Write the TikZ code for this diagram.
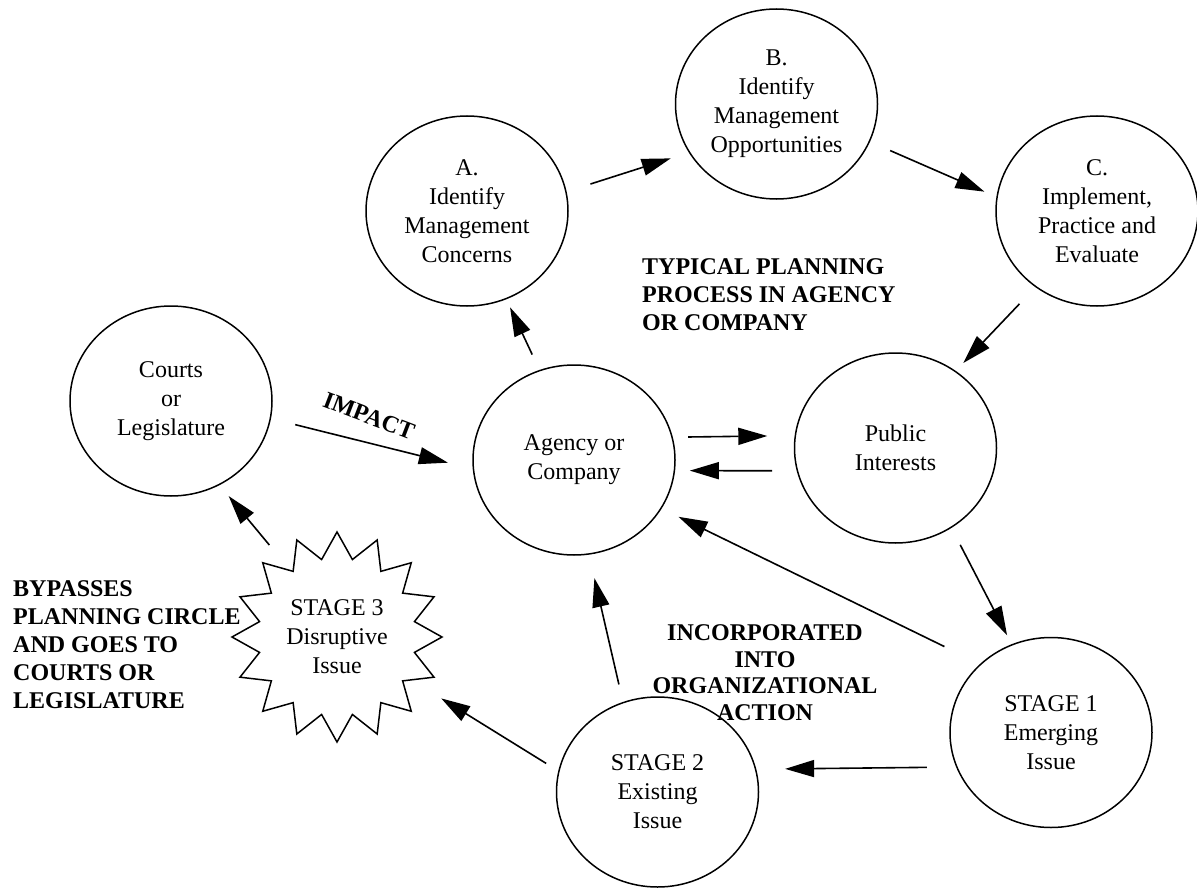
\documentclass[tikz,border=0pt]{standalone}
\usepackage{fontspec}
\setmainfont{Liberation Serif}
\usetikzlibrary{arrows.meta,shapes.geometric}
\begin{document}
\begin{tikzpicture}[x=1pt,y=-1pt,
  every node/.style={font=\fontsize{24}{29}\selectfont},
  bub/.style={draw,ellipse,line width=1.5pt,minimum width=202pt,minimum height=190pt,inner sep=0pt,align=center},
  burst/.style={draw,star,star points=16,star point ratio=1.33,minimum size=210pt,inner sep=0pt,line width=1.5pt,align=center},
  lab/.style={font=\fontsize{24}{28}\selectfont\bfseries,inner sep=0pt},
  arr/.style={line width=1.6pt,-{Triangle[length=29pt,width=17pt]}}
]
\useasboundingbox[fill=white] (0,0) rectangle (1197,888);

\node[bub] (A) at (467,211) {A.\\Identify\\Management\\Concerns};
\node[bub] (B) at (776.5,104) {B.\\Identify\\Management\\Opportunities};
\node[bub] (C) at (1097,211) {C.\\Implement,\\Practice and\\Evaluate};
\node[bub] (ct) at (171,401) {Courts\\or\\Legislature};
\node[bub] (ag) at (574,460) {Agency or\\Company};
\node[bub] (pub) at (895.5,448) {Public\\Interests};
\node[bub] (s1) at (1051,732.5) {STAGE 1\\Emerging\\Issue};
\node[bub] (s2) at (657.5,792) {STAGE 2\\Existing\\Issue};
\node[burst] (s3) at (337,637) {STAGE 3\\Disruptive\\Issue};

\node[lab,align=left,anchor=west] (tp) at (642,295) {TYPICAL PLANNING\\PROCESS IN AGENCY\\OR COMPANY};
\node[lab,align=left,anchor=west] (bp) at (13,645) {BYPASSES\\PLANNING CIRCLE\\AND GOES TO\\COURTS OR\\LEGISLATURE};
\node[lab,align=center,font=\fontsize{24}{26.5}\selectfont\bfseries] (inc) at (765,672.5) {INCORPORATED\\INTO\\ORGANIZATIONAL\\ACTION};
\node[lab,rotate=-21] (imp) at (369,416) {IMPACT};

\draw[arr,shorten <=17pt,shorten >=8.8pt] (ag.111.3) -- (A.-66.5);
\draw[arr,shorten <=25pt,shorten >=19pt] (A.11) -- (B.209.9);
\draw[arr,shorten <=22pt,shorten >=13pt] (B.-22.7) -- (C.172.9);
\draw[arr,shorten <=23pt,shorten >=10.8pt] (C.231.4) -- (pub.52);
\draw[arr,shorten <=15.3pt,shorten >=27.3pt] (ag.13.8) -- (pub.173.2);
\draw[arr,shorten <=24.5pt,shorten >=14.7pt] (pub.193.2) -- (ag.-6.26);
\draw[arr,shorten <=25pt,shorten >=25.5pt] (ct.-10.06) -- (ag.185);
\draw[arr,shorten <=32pt,shorten >=14.2pt] (s3.125) -- (ct.-60.2);
\draw[arr,shorten <=14.2pt,shorten >=34pt] (s2.168.4) -- (s3.-30.5);
\draw[arr,shorten <=18pt,shorten >=24pt] (s2.111.4) -- (ag.-81.3);
\draw[arr,shorten <=19pt,shorten >=10pt] (pub.-55) -- (s1.114);
\draw[arr,shorten <=39.6pt,shorten >=18.7pt] (s1.136.6) -- (ag.-29.4);
\draw[arr,shorten <=29.3pt,shorten >=28.8pt] (s1.200.75) -- (s2.13.8);
\end{tikzpicture}
\end{document}
